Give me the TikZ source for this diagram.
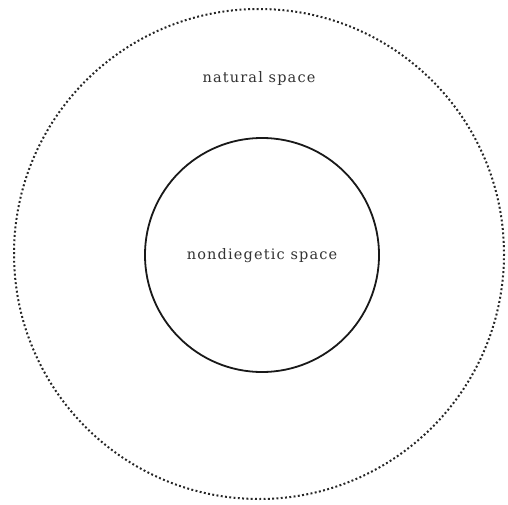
\documentclass[tikz,border=0pt]{standalone}
\usepackage{fontspec}
\setmainfont{DejaVu Serif}
\begin{document}
\begin{tikzpicture}[x=1pt,y=-1pt,
  outerring/.style={draw=black!85, line width=2pt, dash pattern=on 1.9pt off 2.4pt},
  innerring/.style={draw=black!90, line width=1.8pt},
  lbl/.style={font=\fontsize{14.5}{16}\selectfont\addfontfeature{LetterSpace=8}, text=black!80, inner sep=0pt, anchor=base}]
\useasboundingbox[fill=white] (0,0) rectangle (508,505);
\draw[outerring] (259,254) circle (245);
\draw[innerring] (262,255) circle (117);
\node[lbl] (natural) at (259,83) {natural space};
\node[lbl] (nondiegetic) at (262,259) {nondiegetic space};
\end{tikzpicture}
\end{document}
